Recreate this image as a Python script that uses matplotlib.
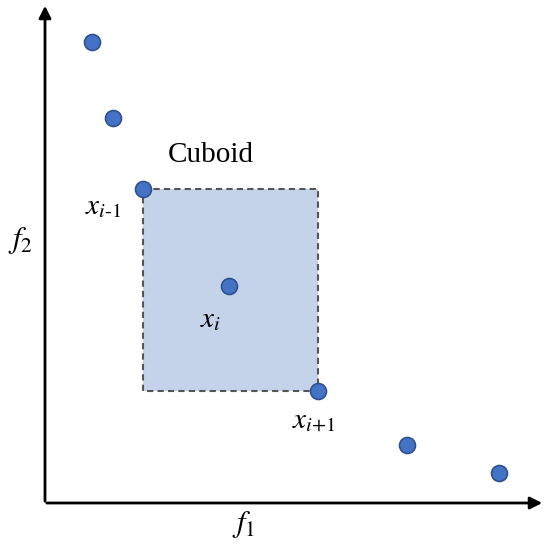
import matplotlib.pyplot as plt
from matplotlib.patches import Rectangle

plt.rcParams['mathtext.fontset'] = 'stix'
plt.rcParams['font.family'] = 'Liberation Serif'

# point positions (pixel-like space, y downwards)
px = [92, 113, 143, 229, 318, 407, 499]
py = [42, 118, 189, 286, 391, 445, 473]

fig = plt.figure(figsize=(5.48, 5.48), dpi=100)
ax = fig.add_axes([0, 0, 1, 1])
ax.set_xlim(0, 548)
ax.set_ylim(548, 0)
ax.axis('off')

# cuboid between neighbours x_{i-1} and x_{i+1}
ax.add_patch(Rectangle((px[2], py[2]), px[4] - px[2], py[4] - py[2],
                       facecolor='#c5d3ea', edgecolor='#555555',
                       linestyle=(0, (3, 2)), linewidth=1.5, zorder=1))

# axes arrows
ax.annotate('', xy=(45, 3), xytext=(45, 504),
            arrowprops=dict(arrowstyle='-|>', color='black', lw=2, mutation_scale=18))
ax.annotate('', xy=(545, 503), xytext=(44, 503),
            arrowprops=dict(arrowstyle='-|>', color='black', lw=2, mutation_scale=18))

ax.plot(px, py, 'o', color='#4472c4', markersize=11.5,
        markeredgecolor='#2f528f', markeredgewidth=1.2, zorder=3)

ax.text(168, 155, 'Cuboid', fontsize=21, va='center')
ax.text(8, 240, r'$f_2$', fontsize=22, va='center')
ax.text(232, 524, r'$f_1$', fontsize=22, va='center')
ax.text(85, 207, r'$x_{i\mathrm{\text{-}1}}$', fontsize=21, va='center')
ax.text(200, 320, r'$x_i$', fontsize=21, va='center')
ax.text(292, 420, r'$x_{i\mathrm{+1}}$', fontsize=21, va='center')

fig.savefig('out.png', dpi=100, facecolor='white')
